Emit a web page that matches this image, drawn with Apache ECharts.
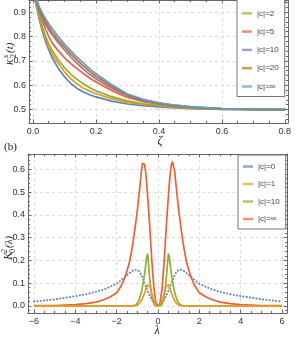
<!DOCTYPE html>
<html><head><meta charset="utf-8">
<script src="https://cdn.jsdelivr.net/npm/echarts@6/dist/echarts.min.js"></script>
<style>html,body{margin:0;padding:0;background:#fff}#c{width:299px;height:339px}</style>
</head><body><div id="c"></div>
<script>
// ---------- panel (a): kappa_2^s(t) vs zeta ----------
const zeta   = [0, 0.01, 0.02, 0.03, 0.04, 0.05, 0.06, 0.08, 0.1, 0.12, 0.14, 0.16, 0.18, 0.2, 0.25, 0.3, 0.35, 0.4, 0.45, 0.5, 0.6, 0.7, 0.8];
const kapC0  = [1.0, 0.93, 0.87, 0.82, 0.78, 0.745, 0.715, 0.67, 0.635, 0.607, 0.587, 0.572, 0.561, 0.552, 0.535, 0.523, 0.516, 0.511, 0.507, 0.504, 0.501, 0.5, 0.5];
const kapC1  = [1.0, 0.935, 0.88, 0.83, 0.79, 0.757, 0.73, 0.69, 0.655, 0.627, 0.605, 0.588, 0.576, 0.565, 0.545, 0.530, 0.521, 0.515, 0.510, 0.506, 0.502, 0.5, 0.5];
const kapC2  = [1.0, 0.94, 0.885, 0.84, 0.80, 0.77, 0.745, 0.705, 0.672, 0.645, 0.624, 0.606, 0.59, 0.577, 0.553, 0.536, 0.524, 0.516, 0.511, 0.507, 0.502, 0.5, 0.5];
const kapC5  = [1.0, 0.95, 0.905, 0.865, 0.83, 0.80, 0.775, 0.742, 0.713, 0.689, 0.668, 0.648, 0.630, 0.613, 0.578, 0.550, 0.533, 0.522, 0.514, 0.509, 0.503, 0.501, 0.5];
const kapC10 = [1.0, 0.945, 0.907, 0.876, 0.85, 0.828, 0.808, 0.775, 0.745, 0.716, 0.690, 0.666, 0.645, 0.626, 0.588, 0.557, 0.538, 0.525, 0.516, 0.510, 0.503, 0.501, 0.5];
const kapC20 = [1.0, 0.952, 0.915, 0.886, 0.862, 0.84, 0.82, 0.787, 0.757, 0.729, 0.703, 0.679, 0.657, 0.637, 0.595, 0.561, 0.540, 0.527, 0.518, 0.511, 0.504, 0.501, 0.5];
const kapCinf= [1.0, 0.957, 0.922, 0.895, 0.873, 0.853, 0.834, 0.800, 0.769, 0.741, 0.715, 0.691, 0.668, 0.647, 0.602, 0.564, 0.542, 0.528, 0.519, 0.512, 0.504, 0.501, 0.5];
const topNames  = ['|c|=0', '|c|=1', '|c|=2', '|c|=5', '|c|=10', '|c|=20', '|c|=\u221e'];
const topSeries = [kapC0, kapC1, kapC2, kapC5, kapC10, kapC20, kapCinf];
const topColors = ['#5E81B5', '#E19C24', '#8FB032', '#EB6235', '#8778B3', '#C56E1A', '#5D9EC7'];

// ---------- panel (b): K_0^2(lambda) vs lambda ----------
const lambda = [-6, -5, -4, -3.5, -3, -2.6, -2.3, -2, -1.8, -1.6, -1.4, -1.3, -1.2, -1.1, -1, -0.9, -0.8, -0.75, -0.7, -0.65, -0.6, -0.55, -0.5, -0.45, -0.4, -0.3, -0.2, -0.1,
                0, 0.1, 0.2, 0.3, 0.4, 0.45, 0.5, 0.55, 0.6, 0.65, 0.7, 0.75, 0.8, 0.9, 1, 1.1, 1.2, 1.3, 1.4, 1.6, 1.8, 2, 2.3, 2.6, 3, 3.5, 4, 5, 6];
const kC0   = [0.019, 0.029, 0.043, 0.051, 0.062, 0.073, 0.085, 0.097, 0.112, 0.127, 0.142, 0.150, 0.156, 0.159, 0.158, 0.150, 0.135, 0.124, 0.112, 0.100, 0.089, 0.077, 0.066, 0.055, 0.045, 0.027, 0.012, 0.003,
               0, 0.003, 0.012, 0.027, 0.045, 0.055, 0.066, 0.077, 0.089, 0.100, 0.112, 0.124, 0.135, 0.150, 0.158, 0.159, 0.156, 0.150, 0.142, 0.127, 0.112, 0.097, 0.085, 0.073, 0.062, 0.051, 0.043, 0.029, 0.019];
const kC1   = [0, 0, 0, 0, 0, 0, 0, 0, 0, 0, 0, 0, 0, 0.001, 0.004, 0.01, 0.024, 0.034, 0.045, 0.057, 0.07, 0.083, 0.092, 0.095, 0.087, 0.055, 0.022, 0.004,
               0, 0.004, 0.022, 0.055, 0.087, 0.095, 0.092, 0.083, 0.07, 0.057, 0.045, 0.034, 0.024, 0.01, 0.004, 0.001, 0, 0, 0, 0, 0, 0, 0, 0, 0, 0, 0, 0, 0];
const kC10  = [0, 0, 0, 0, 0, 0, 0, 0, 0, 0, 0, 0, 0.001, 0.004, 0.012, 0.03, 0.062, 0.085, 0.11, 0.14, 0.175, 0.215, 0.228, 0.175, 0.12, 0.04, 0.008, 0.001,
               0, 0.001, 0.008, 0.04, 0.12, 0.175, 0.228, 0.215, 0.175, 0.14, 0.11, 0.085, 0.062, 0.03, 0.012, 0.004, 0.001, 0, 0, 0, 0, 0, 0, 0, 0, 0, 0, 0, 0];
const kCinf = [0.001, 0.002, 0.006, 0.01, 0.017, 0.028, 0.04, 0.058, 0.085, 0.125, 0.185, 0.23, 0.285, 0.35, 0.42, 0.505, 0.595, 0.625, 0.632, 0.622, 0.59, 0.54, 0.48, 0.415, 0.35, 0.2, 0.08, 0.012,
               0, 0.012, 0.08, 0.2, 0.35, 0.415, 0.48, 0.54, 0.59, 0.622, 0.632, 0.625, 0.595, 0.505, 0.42, 0.35, 0.285, 0.23, 0.185, 0.125, 0.085, 0.058, 0.04, 0.028, 0.017, 0.01, 0.006, 0.002, 0.001];
const botNames  = ['|c|=0\u200b', '|c|=1\u200b', '|c|=10\u200b', '|c|=\u221e\u200b'];
const botSeries = [kC0, kC1, kC10, kCinf];
const botColors = ['#5E81B5', '#E19C24', '#8FB032', '#EB6235'];

const zip = (xs, ys) => xs.map((x, i) => [x, ys[i]]);
const FRAME = '#666';
const LBL = {fontSize: 9, color: '#333', fontFamily: 'Liberation Sans'};
const near = (v, step) => Math.abs(v / step - Math.round(v / step)) < 1e-6;

function frameX(gi, pos, min, max, step, minor, fmt) {
  const main = pos === 'bottom';
  return {
    gridIndex: gi, type: 'value', position: pos, min: min, max: max,
    minInterval: step, maxInterval: step, splitNumber: 5,
    axisLine: {show: true, onZero: false, lineStyle: {color: FRAME, width: 1}},
    axisTick: {show: true, inside: true, length: 3.5, lineStyle: {color: FRAME}},
    minorTick: {show: true, splitNumber: minor, length: 2, lineStyle: {color: FRAME}},
    axisLabel: main ? Object.assign({show: true, margin: 4,
      formatter: v => near(v, step) ? fmt(v) : ''}, LBL) : {show: false},
    splitLine: main ? {show: true, lineStyle: {color: '#ddd', type: [3, 3], width: 1}} : {show: false}
  };
}
function frameY(gi, pos, min, max, step, minor, fmt) {
  const main = pos === 'left';
  return {
    gridIndex: gi, type: 'value', position: pos, min: min, max: max,
    minInterval: step, maxInterval: step, splitNumber: 5,
    axisLine: {show: true, onZero: false, lineStyle: {color: FRAME, width: 1}},
    axisTick: {show: true, inside: true, length: 3.5, lineStyle: {color: FRAME}},
    minorTick: {show: true, splitNumber: minor, length: 2, lineStyle: {color: FRAME}},
    axisLabel: main ? Object.assign({show: true, margin: 3,
      formatter: v => near(v, step) ? fmt(v) : ''}, LBL) : {show: false},
    splitLine: main ? {show: true, lineStyle: {color: '#ddd', type: [3, 3], width: 1}} : {show: false}
  };
}
const fmt1 = v => (Math.abs(v) < 1e-9 ? 0 : v).toFixed(1);
const fmtInt = v => { const r = Math.round(v); return r < 0 ? '\u2212' + (-r) : String(r); };

const series = [];
topSeries.forEach((arr, i) => series.push({
  name: topNames[i], type: 'line', xAxisIndex: 0, yAxisIndex: 0, data: zip(zeta, arr),
  smooth: false, showSymbol: false, symbol: 'none',
  lineStyle: {color: topColors[i], width: 1.7, join: 'round'}, itemStyle: {color: topColors[i]}, clip: true
}));
botSeries.forEach((arr, i) => series.push({
  name: botNames[i], type: 'line', xAxisIndex: 2, yAxisIndex: 2, data: zip(lambda, arr),
  smooth: false, showSymbol: false, symbol: 'none',
  lineStyle: i === 0 ? {color: botColors[i], width: 2, type: [0.1, 3.2], cap: 'round'} : {color: botColors[i], width: 1.7, join: 'round'},
  itemStyle: {color: botColors[i]}, z: i === 1 ? 4 : 3, clip: true
}));

function yTitle(cx, cy, base, sup, sub, arg) {
  return {
    type: 'group', x: cx, y: cy, rotation: Math.PI / 2,
    children: [
      {type: 'text', x: -17, y: 0, style: {text: base, font: 'italic 12px "Liberation Serif"', fill: '#222', verticalAlign: 'middle', align: 'left'}},
      {type: 'text', x: -10, y: -4, style: {text: sup, font: 'italic 8px "Liberation Serif"', fill: '#222', verticalAlign: 'middle', align: 'left'}},
      {type: 'text', x: -10, y: 4, style: {text: sub, font: '8px "Liberation Serif"', fill: '#222', verticalAlign: 'middle', align: 'left'}},
      {type: 'text', x: -5, y: 0, style: {text: arg, font: 'italic 11px "Liberation Serif"', fill: '#222', verticalAlign: 'middle', align: 'left'}}
    ]
  };
}

const legendCommon = {
  orient: 'vertical', icon: 'rect', itemWidth: 10, itemHeight: 2.5,
  borderColor: '#777', borderWidth: 1, backgroundColor: '#fff',
  itemStyle: {opacity: 0.7},
  textStyle: {fontSize: 8, color: '#444', fontFamily: 'Liberation Sans', lineHeight: 10}
};

const option = {
  animation: false,
  backgroundColor: '#fff',
  grid: [
    {left: 29, right: 11, top: -15, height: 138},
    {left: 28, right: 12, top: 154, height: 159}
  ],
  xAxis: [
    frameX(0, 'bottom', -0.0127, 0.81, 0.2, 4, fmt1),
    frameX(0, 'top', -0.0127, 0.81, 0.2, 4, fmt1),
    frameX(1, 'bottom', -6.29, 6.24, 2, 4, fmtInt),
    frameX(1, 'top', -6.29, 6.24, 2, 4, fmtInt)
  ],
  yAxis: [
    frameY(0, 'left', 0.445, 0.95, 0.1, 5, fmt1),
    frameY(0, 'right', 0.445, 0.95, 0.1, 5, fmt1),
    frameY(1, 'left', -0.031, 0.667, 0.1, 5, fmt1),
    frameY(1, 'right', -0.031, 0.667, 0.1, 5, fmt1)
  ],
  legend: [
    Object.assign({data: topNames, left: 237, top: -33.3, itemGap: 8.3, padding: [5, 6, 5, 5]}, legendCommon),
    Object.assign({data: botNames, left: 238, top: 155, itemGap: 7.5, padding: [6.5, 6, 5, 5]}, legendCommon)
  ],
  graphic: [
    yTitle(10, 48, '\u03ba', 's', '2', '(t)'),
    yTitle(9, 243, 'K', '2', '0', '(\u03bb)'),
    {type: 'text', x: 160, y: 141, style: {text: '\u03b6', font: 'italic 12px "Liberation Serif"', fill: '#222', align: 'center', verticalAlign: 'middle'}},
    {type: 'text', x: 157, y: 331, style: {text: '\u03bb', font: 'italic 12px "Liberation Serif"', fill: '#222', align: 'center', verticalAlign: 'middle'}},
    {type: 'text', x: 4, y: 147, style: {text: '(b)', font: '11px "Liberation Serif"', fill: '#222', align: 'left', verticalAlign: 'middle'}}
  ],
  series: series
};
const chart = echarts.init(document.getElementById('c'), null, {renderer: 'canvas'});
chart.setOption(option);
</script>
</body></html>
